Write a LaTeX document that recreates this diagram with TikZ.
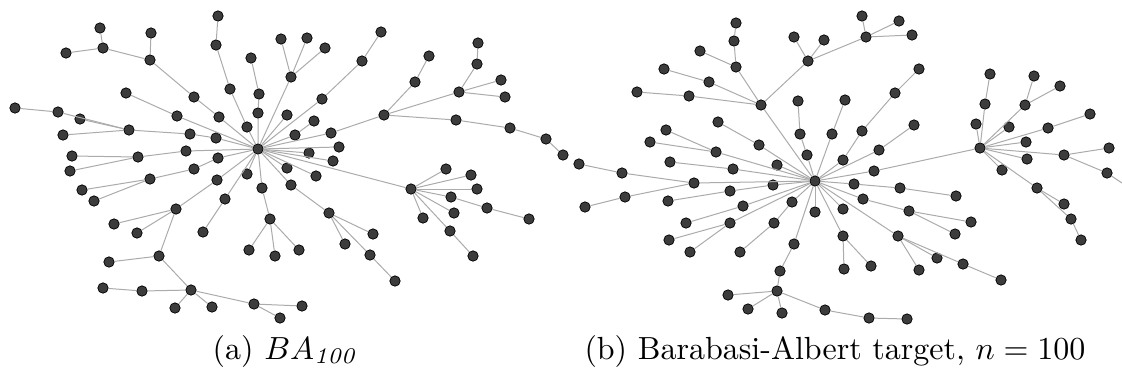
\documentclass[tikz,border=0pt]{standalone}
\usepackage{tikz}
\usepackage{amsmath}
\usepackage{xcolor}
\definecolor{vfill}{HTML}{3C3C3C}
\definecolor{lgray}{HTML}{ABABAB}

\begin{document}
\begin{tikzpicture}[x=0.5pt,y=-0.5pt,
  vert/.style={circle,fill=vfill,draw=black,line width=0.35pt,inner sep=0,minimum size=5.2pt},
  link/.style={draw=lgray,line width=0.5pt}]
\useasboundingbox (0,0) rectangle (1122,377);
\node[vert] (a0) at (258,149) {};
\node[vert] (a1) at (219,117) {};
\node[vert] (a2) at (194,97) {};
\node[vert] (a3) at (150,60) {};
\node[vert] (a4) at (151,33) {};
\node[vert] (a5) at (103,48) {};
\node[vert] (a6) at (100,28) {};
\node[vert] (a7) at (66,53) {};
\node[vert] (a8) at (247,127) {};
\node[vert] (a9) at (230,89) {};
\node[vert] (a10) at (216,45) {};
\node[vert] (a11) at (218,16) {};
\node[vert] (a12) at (258,113) {};
\node[vert] (a13) at (259,94) {};
\node[vert] (a14) at (251,58) {};
\node[vert] (a15) at (291,77) {};
\node[vert] (a16) at (281,39) {};
\node[vert] (a17) at (307,38) {};
\node[vert] (a18) at (325,48) {};
\node[vert] (a19) at (322,99) {};
\node[vert] (a20) at (362,61) {};
\node[vert] (a21) at (381,32) {};
\node[vert] (a22) at (287,115) {};
\node[vert] (a23) at (295,135) {};
\node[vert] (a24) at (314,121) {};
\node[vert] (a25) at (331,133) {};
\node[vert] (a26) at (384,115) {};
\node[vert] (a27) at (415,82) {};
\node[vert] (a28) at (429,56) {};
\node[vert] (a29) at (459,92) {};
\node[vert] (a30) at (477,64) {};
\node[vert] (a31) at (478,43) {};
\node[vert] (a32) at (501,80) {};
\node[vert] (a33) at (505,97) {};
\node[vert] (a34) at (456,120) {};
\node[vert] (a35) at (510,128) {};
\node[vert] (a36) at (546,139) {};
\node[vert] (a37) at (563,155) {};
\node[vert] (a38) at (339,147) {};
\node[vert] (a39) at (309,153) {};
\node[vert] (a40) at (333,161) {};
\node[vert] (a41) at (177,116) {};
\node[vert] (a42) at (126,93) {};
\node[vert] (a43) at (129,130) {};
\node[vert] (a44) at (58,112) {};
\node[vert] (a45) at (15,108) {};
\node[vert] (a46) at (80,119) {};
\node[vert] (a47) at (63,135) {};
\node[vert] (a48) at (190,134) {};
\node[vert] (a49) at (216,138) {};
\node[vert] (a50) at (186,151) {};
\node[vert] (a51) at (138,157) {};
\node[vert] (a52) at (72,156) {};
\node[vert] (a53) at (70,171) {};
\node[vert] (a54) at (218,158) {};
\node[vert] (a55) at (194,169) {};
\node[vert] (a56) at (150,179) {};
\node[vert] (a57) at (82,190) {};
\node[vert] (a58) at (94,201) {};
\node[vert] (a59) at (217,180) {};
\node[vert] (a60) at (176,209) {};
\node[vert] (a61) at (114,224) {};
\node[vert] (a62) at (137,233) {};
\node[vert] (a63) at (159,256) {};
\node[vert] (a64) at (109,262) {};
\node[vert] (a65) at (191,290) {};
\node[vert] (a66) at (142,291) {};
\node[vert] (a67) at (103,288) {};
\node[vert] (a68) at (175,308) {};
\node[vert] (a69) at (212,307) {};
\node[vert] (a70) at (254,304) {};
\node[vert] (a71) at (302,306) {};
\node[vert] (a72) at (280,318) {};
\node[vert] (a73) at (247,174) {};
\node[vert] (a74) at (225,199) {};
\node[vert] (a75) at (203,232) {};
\node[vert] (a76) at (262,188) {};
\node[vert] (a77) at (270,219) {};
\node[vert] (a78) at (249,250) {};
\node[vert] (a79) at (275,256) {};
\node[vert] (a80) at (299,250) {};
\node[vert] (a81) at (287,168) {};
\node[vert] (a82) at (316,176) {};
\node[vert] (a83) at (291,185) {};
\node[vert] (a84) at (329,213) {};
\node[vert] (a85) at (373,234) {};
\node[vert] (a86) at (345,244) {};
\node[vert] (a87) at (370,255) {};
\node[vert] (a88) at (395,281) {};
\node[vert] (a89) at (411,189) {};
\node[vert] (a90) at (446,169) {};
\node[vert] (a91) at (471,175) {};
\node[vert] (a92) at (477,189) {};
\node[vert] (a93) at (451,197) {};
\node[vert] (a94) at (487,208) {};
\node[vert] (a95) at (529,219) {};
\node[vert] (a96) at (454,213) {};
\node[vert] (a97) at (423,218) {};
\node[vert] (a98) at (450,231) {};
\node[vert] (a99) at (473,256) {};
\draw[link] (a0) -- (a1) -- (a2) -- (a3) -- (a4);
\draw[link] (a3) -- (a5) -- (a6);
\draw[link] (a5) -- (a7);
\draw[link] (a0) -- (a8) -- (a9) -- (a10) -- (a11);
\draw[link] (a0) -- (a12) -- (a13) -- (a14);
\draw[link] (a0) -- (a15) -- (a16);
\draw[link] (a15) -- (a17);
\draw[link] (a15) -- (a18);
\draw[link] (a0) -- (a19) -- (a20) -- (a21);
\draw[link] (a0) -- (a22);
\draw[link] (a0) -- (a23) -- (a24);
\draw[link] (a0) -- (a25) -- (a26) -- (a27) -- (a28);
\draw[link] (a26) -- (a29) -- (a30) -- (a31);
\draw[link] (a29) -- (a32);
\draw[link] (a29) -- (a33);
\draw[link] (a26) -- (a34) -- (a35) -- (a36) -- (a37);
\draw[link] (a0) -- (a38);
\draw[link] (a0) -- (a39);
\draw[link] (a0) -- (a40);
\draw[link] (a0) -- (a41) -- (a42);
\draw[link] (a0) -- (a49) -- (a48) -- (a43) -- (a44) -- (a45);
\draw[link] (a43) -- (a46);
\draw[link] (a43) -- (a47);
\draw[link] (a0) -- (a50) -- (a51) -- (a52);
\draw[link] (a51) -- (a53);
\draw[link] (a0) -- (a54) -- (a55) -- (a56) -- (a57);
\draw[link] (a56) -- (a58);
\draw[link] (a0) -- (a59) -- (a60) -- (a61);
\draw[link] (a60) -- (a62);
\draw[link] (a60) -- (a63) -- (a64);
\draw[link] (a63) -- (a65) -- (a66) -- (a67);
\draw[link] (a65) -- (a68);
\draw[link] (a65) -- (a69);
\draw[link] (a65) -- (a70) -- (a71);
\draw[link] (a70) -- (a72);
\draw[link] (a0) -- (a73);
\draw[link] (a0) -- (a74) -- (a75);
\draw[link] (a0) -- (a76) -- (a77) -- (a78);
\draw[link] (a77) -- (a79);
\draw[link] (a77) -- (a80);
\draw[link] (a0) -- (a81);
\draw[link] (a0) -- (a82);
\draw[link] (a0) -- (a83) -- (a84) -- (a85);
\draw[link] (a84) -- (a86);
\draw[link] (a84) -- (a87) -- (a88);
\draw[link] (a0) -- (a89) -- (a90);
\draw[link] (a89) -- (a91);
\draw[link] (a89) -- (a92);
\draw[link] (a89) -- (a93) -- (a94) -- (a95);
\draw[link] (a89) -- (a96);
\draw[link] (a89) -- (a97);
\draw[link] (a89) -- (a98) -- (a99);
\node[vert] (b0) at (815,181) {};
\node[vert] (b1) at (761,105) {};
\node[vert] (b2) at (736,67) {};
\node[vert] (b3) at (734,41) {};
\node[vert] (b4) at (736,23) {};
\node[vert] (b5) at (700,51) {};
\node[vert] (b6) at (709,82) {};
\node[vert] (b7) at (664,69) {};
\node[vert] (b8) at (689,96) {};
\node[vert] (b9) at (637,92) {};
\node[vert] (b10) at (808,61) {};
\node[vert] (b11) at (794,37) {};
\node[vert] (b12) at (824,40) {};
\node[vert] (b13) at (866,37) {};
\node[vert] (b14) at (862,16) {};
\node[vert] (b15) at (899,21) {};
\node[vert] (b16) at (912,35) {};
\node[vert] (b17) at (759,145) {};
\node[vert] (b18) at (718,122) {};
\node[vert] (b19) at (716,152) {};
\node[vert] (b20) at (666,130) {};
\node[vert] (b21) at (650,142) {};
\node[vert] (b22) at (733,169) {};
\node[vert] (b23) at (670,162) {};
\node[vert] (b24) at (777,165) {};
\node[vert] (b25) at (807,155) {};
\node[vert] (b26) at (800,134) {};
\node[vert] (b27) at (798,101) {};
\node[vert] (b28) at (832,134) {};
\node[vert] (b29) at (845,100) {};
\node[vert] (b30) at (843,160) {};
\node[vert] (b31) at (862,131) {};
\node[vert] (b32) at (895,93) {};
\node[vert] (b33) at (919,69) {};
\node[vert] (b34) at (879,150) {};
\node[vert] (b35) at (914,125) {};
\node[vert] (b36) at (874,171) {};
\node[vert] (b37) at (980,148) {};
\node[vert] (b38) at (985,104) {};
\node[vert] (b39) at (990,74) {};
\node[vert] (b40) at (976,124) {};
\node[vert] (b41) at (1025,105) {};
\node[vert] (b42) at (1034,76) {};
\node[vert] (b43) at (1060,86) {};
\node[vert] (b44) at (1009,127) {};
\node[vert] (b45) at (1048,128) {};
\node[vert] (b46) at (1090,114) {};
\node[vert] (b47) at (1026,142) {};
\node[vert] (b48) at (1027,159) {};
\node[vert] (b49) at (1064,155) {};
\node[vert] (b50) at (1109,148) {};
\node[vert] (b51) at (1107,173) {};
\node[vert] (b52) at (1002,170) {};
\node[vert] (b53) at (1037,188) {};
\node[vert] (b54) at (1064,204) {};
\node[vert] (b55) at (1071,219) {};
\node[vert] (b56) at (1081,240) {};
\node[vert] (b57) at (854,184) {};
\node[vert] (b58) at (900,188) {};
\node[vert] (b59) at (956,196) {};
\node[vert] (b60) at (863,199) {};
\node[vert] (b61) at (909,211) {};
\node[vert] (b62) at (971,222) {};
\node[vert] (b63) at (955,234) {};
\node[vert] (b64) at (843,209) {};
\node[vert] (b65) at (843,236) {};
\node[vert] (b66) at (844,269) {};
\node[vert] (b67) at (871,266) {};
\node[vert] (b68) at (898,236) {};
\node[vert] (b69) at (937,258) {};
\node[vert] (b70) at (963,264) {};
\node[vert] (b71) at (1001,280) {};
\node[vert] (b72) at (919,270) {};
\node[vert] (b73) at (815,212) {};
\node[vert] (b74) at (794,244) {};
\node[vert] (b75) at (780,271) {};
\node[vert] (b76) at (777,291) {};
\node[vert] (b77) at (728,295) {};
\node[vert] (b78) at (748,309) {};
\node[vert] (b79) at (782,313) {};
\node[vert] (b80) at (825,310) {};
\node[vert] (b81) at (869,318) {};
\node[vert] (b82) at (907,319) {};
\node[vert] (b83) at (792,202) {};
\node[vert] (b84) at (774,223) {};
\node[vert] (b85) at (740,252) {};
\node[vert] (b86) at (730,223) {};
\node[vert] (b87) at (669,240) {};
\node[vert] (b88) at (690,252) {};
\node[vert] (b89) at (743,206) {};
\node[vert] (b90) at (686,223) {};
\node[vert] (b91) at (773,185) {};
\node[vert] (b92) at (730,191) {};
\node[vert] (b93) at (668,201) {};
\node[vert] (b94) at (694,183) {};
\node[vert] (b95) at (622,173) {};
\node[vert] (b96) at (579,164) {};
\node[vert] (b97) at (625,197) {};
\node[vert] (b98) at (585,207) {};
\coordinate (b51out) at (1122,183);
\draw[link] (b0) -- (b1) -- (b2) -- (b3) -- (b4);
\draw[link] (b2) -- (b5);
\draw[link] (b1) -- (b6) -- (b7);
\draw[link] (b1) -- (b8) -- (b9);
\draw[link] (b1) -- (b10) -- (b11);
\draw[link] (b10) -- (b12);
\draw[link] (b10) -- (b13) -- (b14);
\draw[link] (b13) -- (b15);
\draw[link] (b13) -- (b16);
\draw[link] (b0) -- (b17) -- (b18);
\draw[link] (b0) -- (b19) -- (b20);
\draw[link] (b19) -- (b21);
\draw[link] (b0) -- (b22) -- (b23);
\draw[link] (b0) -- (b24);
\draw[link] (b0) -- (b25) -- (b26) -- (b27);
\draw[link] (b0) -- (b28) -- (b29);
\draw[link] (b0) -- (b30) -- (b31) -- (b32) -- (b33);
\draw[link] (b0) -- (b34) -- (b35);
\draw[link] (b0) -- (b36) -- (b37) -- (b38) -- (b39);
\draw[link] (b37) -- (b40);
\draw[link] (b37) -- (b41) -- (b42);
\draw[link] (b41) -- (b43);
\draw[link] (b37) -- (b44);
\draw[link] (b37) -- (b45) -- (b46);
\draw[link] (b37) -- (b47);
\draw[link] (b37) -- (b48);
\draw[link] (b37) -- (b49) -- (b50);
\draw[link] (b49) -- (b51) -- (b51out);
\draw[link] (b37) -- (b52);
\draw[link] (b37) -- (b53) -- (b54);
\draw[link] (b53) -- (b55) -- (b56);
\draw[link] (b0) -- (b57) -- (b58) -- (b59);
\draw[link] (b0) -- (b60) -- (b61) -- (b62);
\draw[link] (b61) -- (b63);
\draw[link] (b0) -- (b64);
\draw[link] (b0) -- (b65) -- (b66);
\draw[link] (b65) -- (b67);
\draw[link] (b0) -- (b68) -- (b69);
\draw[link] (b68) -- (b70) -- (b71);
\draw[link] (b68) -- (b72);
\draw[link] (b0) -- (b73);
\draw[link] (b0) -- (b74) -- (b75) -- (b76) -- (b77);
\draw[link] (b76) -- (b78);
\draw[link] (b76) -- (b79);
\draw[link] (b76) -- (b80) -- (b81) -- (b82);
\draw[link] (b0) -- (b83) -- (b84) -- (b85);
\draw[link] (b0) -- (b86) -- (b87);
\draw[link] (b86) -- (b88);
\draw[link] (b0) -- (b89) -- (b90);
\draw[link] (b0) -- (b91) -- (b92) -- (b93);
\draw[link] (b0) -- (b94) -- (b95) -- (b96);
\draw[link] (b94) -- (b97) -- (b98);
\node (capa) at (286,351) {\scalebox{1.6}{(a) $BA_{\mathit{100}}$}};
\node (capb) at (835,351) {\scalebox{1.6}{(b) Barabasi-Albert target, $n=100$}};
\end{tikzpicture}
\end{document}
